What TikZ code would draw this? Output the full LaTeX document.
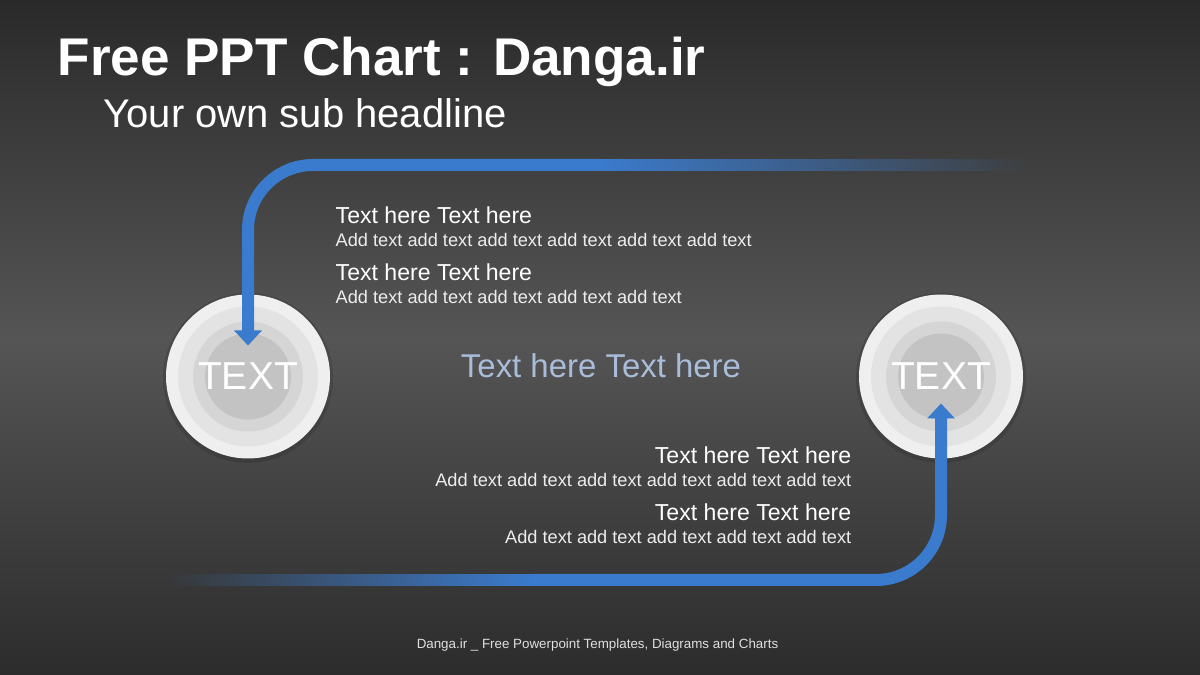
\documentclass[tikz,border=0pt]{standalone}
\usepackage{fontspec}
\setmainfont{Liberation Sans}
\usepackage{xcolor}
\definecolor{dgbgtop}{HTML}{2A2A2A}
\definecolor{dgbgmid}{HTML}{555555}
\definecolor{dgbgbot}{HTML}{2C2C2C}
\definecolor{dgblue}{HTML}{3B7BCD}
\definecolor{dgsoft}{HTML}{A9BDDA}
\definecolor{dgringa}{HTML}{EFEFEF}
\definecolor{dgringb}{HTML}{E3E3E3}
\definecolor{dgringc}{HTML}{D5D5D5}
\definecolor{dgringd}{HTML}{C3C3C3}
\usepackage{tikz}
\usetikzlibrary{arrows.meta,positioning,calc,fadings}
\tikzfading[name=dgfadeout,left color=transparent!0,right color=transparent!100]
\tikzfading[name=dgfadein,left color=transparent!100,right color=transparent!0]
\tikzset{
  dgring/.style={circle,draw=none,inner sep=0pt},
  dgflow/.style={dgblue,line width=1.2mm,rounded corners=6.5mm,-{Triangle[width=2.7mm,length=1.5mm]}},
  dghead/.style={text=white,font=\fontsize{6.57}{7.5}\selectfont,inner sep=0pt},
  dgbody/.style={text=white!93!black,font=\fontsize{5.18}{6.5}\selectfont,inner sep=0pt},
  dgcirc/.style={text=white,font=\fontsize{11.1}{12}\selectfont,inner sep=0pt},
}

\begin{document}
\begin{tikzpicture}
\useasboundingbox (0,0) rectangle (12,6.75);
\shade[top color=dgbgtop,bottom color=dgbgbot,middle color=dgbgmid] (0,0) rectangle (12,6.75);
% headline
\node[anchor=base west,inner sep=0pt,text=white,font=\bfseries\fontsize{15.1}{18}\selectfont] (title) at (0.57,5.99) {Free PPT Chart : Danga.ir};
\node[anchor=base west,inner sep=0pt,text=white,font=\fontsize{11.37}{13}\selectfont] (subtitle) at (1.03,5.47) {Your own sub headline};

% target discs
\foreach \n/\x in {lc/2.48,rc/9.41}{
  \fill[black,opacity=0.12] (\x,2.97) circle (0.85);
  \node[dgring,fill=dgringa,minimum size=16.4mm] (\n) at (\x,2.985) {};
  \node[dgring,fill=dgringb,minimum size=14mm] at (\n) {};
  \node[dgring,fill=dgringc,minimum size=11mm] at (\n) {};
  \node[dgring,fill=dgringd,minimum size=8.6mm] at (\n) {};
  \node[dgcirc] at (\n) {TEXT};
}

% flows
\coordinate (tfade) at (6.0,5.10);
\coordinate (tend) at (10.3,5.10);
\fill[dgblue,path fading=dgfadeout] ($(tfade)+(0,-0.06)$) rectangle ($(tend)+(0,0.06)$);
\draw[dgflow,shorten >=3.1mm] (tfade) -| (lc.center);
\coordinate (bstart) at (1.65,0.95);
\coordinate (bfade) at (5.3,0.95);
\fill[dgblue,path fading=dgfadein] ($(bstart)+(0,-0.06)$) rectangle ($(bfade)+(0,0.06)$);
\draw[dgflow,shorten >=2.7mm] (bfade) -| (rc.center);

% texts
\node[dghead,anchor=base west] (ta) at (3.35,4.51) {Text here Text here};
\node[dgbody,anchor=base west] (tab) at (3.35,4.28) {Add text add text add text add text add text add text};
\node[dghead,anchor=base west] (tb) at (3.35,3.94) {Text here Text here};
\node[dgbody,anchor=base west] (tbb) at (3.35,3.71) {Add text add text add text add text add text};
\node[text=dgsoft,font=\fontsize{9.37}{11}\selectfont,inner sep=0pt,anchor=base] (mid) at (6.01,2.97) {Text here Text here};
\node[dghead,anchor=base east] (tc) at (8.52,2.11) {Text here Text here};
\node[dgbody,anchor=base east] (tcb) at (8.52,1.88) {Add text add text add text add text add text add text};
\node[dghead,anchor=base east] (td) at (8.52,1.54) {Text here Text here};
\node[dgbody,anchor=base east] (tdb) at (8.52,1.31) {Add text add text add text add text add text};
\node[text=white!88!black,font=\fontsize{3.8}{4.5}\selectfont,inner sep=0pt,anchor=base] (foot) at (5.975,0.26) {Danga.ir \_ Free Powerpoint Templates, Diagrams and Charts};
\end{tikzpicture}
\end{document}
